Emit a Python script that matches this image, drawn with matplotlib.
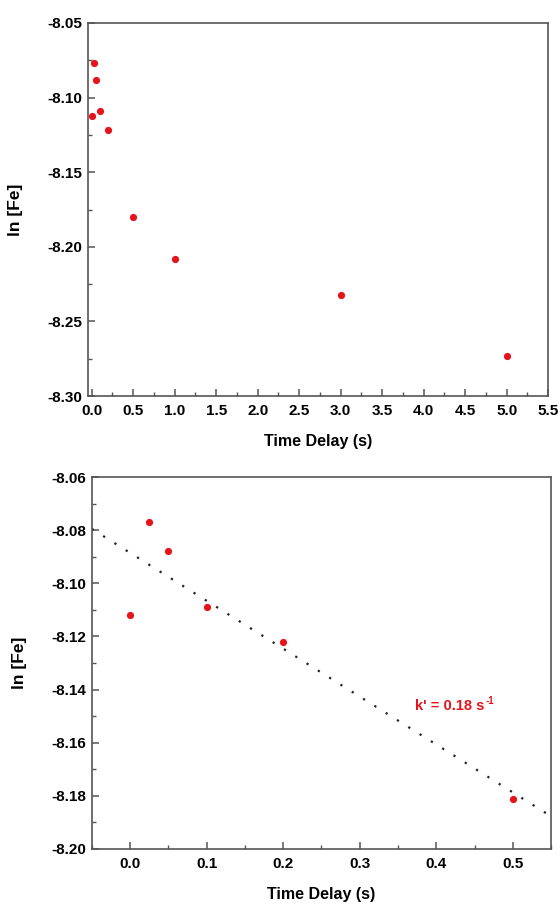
import numpy as np
import matplotlib
matplotlib.use('Agg')
import matplotlib.pyplot as plt
from matplotlib.ticker import MultipleLocator, FormatStrFormatter

plt.rcParams['font.family'] = ['Liberation Sans', 'DejaVu Sans']
plt.rcParams['font.weight'] = 'bold'

# Data ------------------------------------------------------------------
t_all = [0.0, 0.025, 0.05, 0.1, 0.2, 0.5, 1.0, 3.0, 5.0]
lnfe_all = [-8.112, -8.077, -8.088, -8.109, -8.122, -8.180, -8.208, -8.232, -8.273]

t_short = [0.0, 0.025, 0.05, 0.1, 0.2, 0.5]
lnfe_short = [-8.112, -8.077, -8.088, -8.109, -8.122, -8.181]

fit_x = [-0.05, 0.55]
k_text = "k' = 0.18 s"
k_sup = "-1"

red = '#e5141b'
spine_col = '#555555'

fig = plt.figure(figsize=(5.6, 9.05), dpi=100)
ax1 = fig.add_axes([0.157, 0.5624, 0.822, 0.4122])
ax2 = fig.add_axes([0.164, 0.0619, 0.820, 0.411])


def style(ax):
    for s in ax.spines.values():
        s.set_color(spine_col)
        s.set_linewidth(1.2)
    ax.tick_params(which='both', direction='in', top=False, right=False,
                   color=spine_col, labelsize=11)
    ax.tick_params(axis='x', pad=6)
    ax.tick_params(axis='y', pad=4)
    ax.tick_params(which='major', length=5, width=1.1)
    ax.tick_params(which='minor', length=3, width=1.0)
    for lab in ax.get_xticklabels() + ax.get_yticklabels():
        lab.set_fontweight('bold')
    ax.set_xlabel('Time Delay (s)', fontsize=11.5, fontweight='bold', labelpad=11)
    ax.set_ylabel('ln [Fe]', fontsize=12.5, fontweight='bold')
    ax.yaxis.set_label_coords(-0.141, 0.5)


# Top panel: all points --------------------------------------------------
ax1.plot(t_all, lnfe_all, 'o', color=red, markersize=5.2, markeredgewidth=0)
ax1.set_xlim(-0.045, 5.5)
ax1.set_ylim(-8.30, -8.05)
ax1.xaxis.set_major_locator(MultipleLocator(0.5))
ax1.xaxis.set_minor_locator(MultipleLocator(0.25))
ax1.yaxis.set_major_locator(MultipleLocator(0.05))
ax1.yaxis.set_minor_locator(MultipleLocator(0.025))
ax1.xaxis.set_major_formatter(FormatStrFormatter('%.1f'))
ax1.yaxis.set_major_formatter(FormatStrFormatter('%.2f'))
style(ax1)

# Bottom panel: short delays with linear fit -----------------------------
slope, intercept = np.polyfit(t_short, lnfe_short, 1)
fx = np.array(fit_x)
ax2.plot(fx, slope * fx + intercept, color='#222222', linestyle=(0, (1, 5)), linewidth=1.6)
ax2.plot(t_short, lnfe_short, 'o', color=red, markersize=5.2, markeredgewidth=0)
kt = ax2.text(0.418, -8.146, k_text, color=red, fontsize=10.5, fontweight='bold',
              ha='center', va='center')
ax2.annotate(k_sup, xy=(1, 1), xycoords=kt, xytext=(1, -2), textcoords='offset points',
             color=red, fontsize=7, fontweight='bold', ha='left', va='center')
ax2.set_xlim(-0.05, 0.55)
ax2.set_ylim(-8.20, -8.06)
ax2.xaxis.set_major_locator(MultipleLocator(0.1))
ax2.xaxis.set_minor_locator(MultipleLocator(0.05))
ax2.yaxis.set_major_locator(MultipleLocator(0.02))
ax2.yaxis.set_minor_locator(MultipleLocator(0.01))
ax2.xaxis.set_major_formatter(FormatStrFormatter('%.1f'))
ax2.yaxis.set_major_formatter(FormatStrFormatter('%.2f'))
style(ax2)

fig.savefig('out.png', dpi=100)
